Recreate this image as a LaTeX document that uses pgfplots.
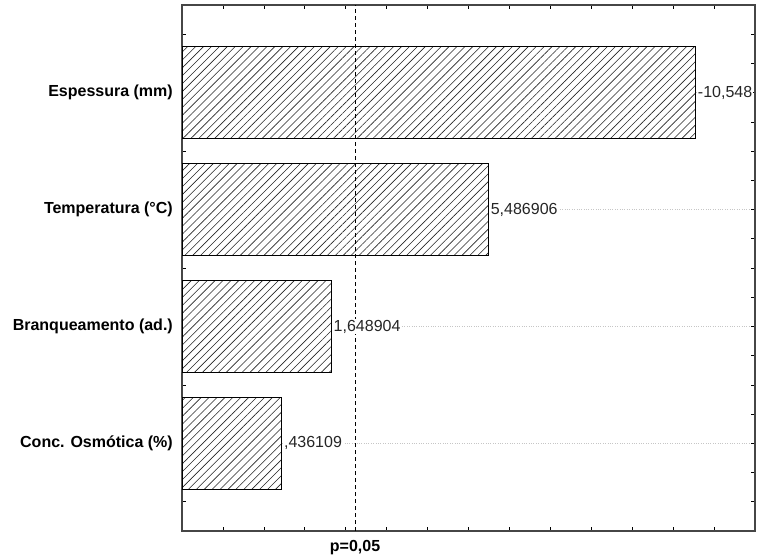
\documentclass[border=0pt]{standalone}
\usepackage{fontspec}
\setmainfont{Liberation Sans}
\usepackage{pgfplots}
\usepackage{pgfplotstable}
\pgfplotsset{compat=1.18}
\usetikzlibrary{patterns.meta}

\pgfplotstableread{
y t lab
4 10.548 -10,548
3 5.486906 5,486906
2 1.648904 1,648904
1 0.436109 ,436109
}\paretotab

\newcommand\plabel{p=0,05}

\begin{document}
\begin{tikzpicture}
\path[use as bounding box] (-182bp,-28bp) rectangle (575bp,531bp);
\begin{axis}[
  at={(0,0)}, anchor=south west,
  scale only axis, width=573bp, height=526bp,
  xmin=0, xmax=14, ymin=0.25, ymax=4.75,
  xtick={0,1,...,14}, xticklabels={},
  ytick={1,2,3,4},
  yticklabels={Conc. Osmótica (\%), Branqueamento (ad.), Temperatura (°C), Espessura (mm)},
  minor ytick={0.5,0.75,...,4.5},
  extra x ticks={4.228},
  extra x tick labels={\plabel},
  extra x tick style={major tick length=0pt, xticklabel style={font=\bfseries\fontsize{16bp}{19bp}\selectfont, yshift=-6bp}},
  tick align=inside,
  major tick length=4bp, minor tick length=4bp,
  every tick/.style={black, line width=0.6bp},
  axis line style={gray!55!black, line width=1.2bp},
  yticklabel style={font=\bfseries\fontsize{16bp}{19bp}\selectfont, inner sep=0pt, xshift=-9bp},
  ymajorgrids,
  major grid style={gray!45, dotted, line width=0.6bp},
  clip=false,
]
\addplot[
  xbar, bar width=92bp,
  draw=black, line width=0.8bp, fill=white,
  postaction={pattern={Lines[angle=45,distance=5.6bp,line width=0.6bp]}, pattern color=black!85},
  point meta=explicit symbolic,
  nodes near coords,
  every node near coord/.style={anchor=west, font=\fontsize{16bp}{19bp}\selectfont, text=black!85, fill=white, inner sep=1bp, xshift=1bp},
] table[x expr=\thisrow{t}+2, y=y, meta=lab] {\paretotab};
\addplot[black, line width=0.7bp, dash pattern=on 4bp off 3bp, mark=none, forget plot] coordinates {(4.228,0.25) (4.228,4.75)};
\end{axis}
\end{tikzpicture}
\end{document}
